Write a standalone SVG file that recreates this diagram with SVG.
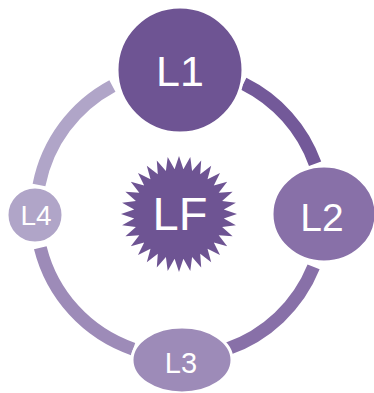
<svg xmlns="http://www.w3.org/2000/svg" width="374" height="393" viewBox="0 0 374 393">
<style>
.lbl{font-family:"Liberation Sans",Arial,sans-serif;fill:#fff;text-anchor:middle}
.arc{fill:none;stroke-width:13}
.node{stroke:#fff;stroke-width:3}
</style>
<rect width="374" height="393" fill="#fff"/>
<g id="connectors">
<path class="arc" stroke="#735999" d="M 243.5 83.6 A 144 144 0 0 1 315.1 163.7"/>
<path class="arc" stroke="#8870a8" d="M 313.6 266.9 A 144 144 0 0 1 226.9 349.1"/>
<path class="arc" stroke="#9d8bb8" d="M 133.1 349.1 A 144 144 0 0 1 40.3 247.8"/>
<path class="arc" stroke="#b0a5c8" d="M 39.0 184.9 A 144 144 0 0 1 112.4 85.9"/>
</g>
<g id="L1"><circle class="node" cx="180" cy="70" r="63" fill="#6e5493"/><text class="lbl" x="180" y="86" font-size="43">L1</text></g>
<g id="L2"><ellipse class="node" cx="324" cy="214" rx="52" ry="48" fill="#8870a8"/><text class="lbl" x="322" y="231" font-size="39">L2</text></g>
<g id="L3"><ellipse class="node" cx="182" cy="360" rx="50" ry="33" fill="#9d8bb8"/><text class="lbl" x="181" y="373" font-size="29">L3</text></g>
<g id="L4"><circle class="node" cx="35" cy="215" r="28" fill="#b0a5c8"/><text class="lbl" x="36" y="225" font-size="28">L4</text></g>
<g id="LF"><polygon fill="#6e5493" points="179,156 183.4,169.2 190.3,157.1 192.1,171.0 201.2,160.4 200.2,174.3 211.2,165.8 207.5,179.2 220.0,173.0 213.8,185.5 227.2,181.8 218.7,192.8 232.6,191.8 222.1,200.9 235.9,202.7 223.8,209.6 237,214 223.8,218.4 235.9,225.3 222.1,227.1 232.6,236.2 218.7,235.2 227.2,246.2 213.8,242.5 220.0,255.0 207.5,248.8 211.2,262.2 200.2,253.7 201.2,267.6 192.1,257.0 190.3,270.9 183.4,258.8 179,272 174.6,258.8 167.7,270.9 165.9,257.0 156.8,267.6 157.8,253.7 146.8,262.2 150.5,248.8 138.0,255.0 144.2,242.5 130.8,246.2 139.3,235.2 125.4,236.2 135.9,227.1 122.1,225.3 134.2,218.4 121,214 134.2,209.6 122.1,202.7 135.9,200.9 125.4,191.8 139.3,192.8 130.8,181.8 144.2,185.5 138.0,173.0 150.5,179.2 146.8,165.8 157.8,174.3 156.8,160.4 165.9,171.0 167.7,157.1 174.6,169.2"/><text class="lbl" x="180" y="230" font-size="47">LF</text></g>
</svg>
